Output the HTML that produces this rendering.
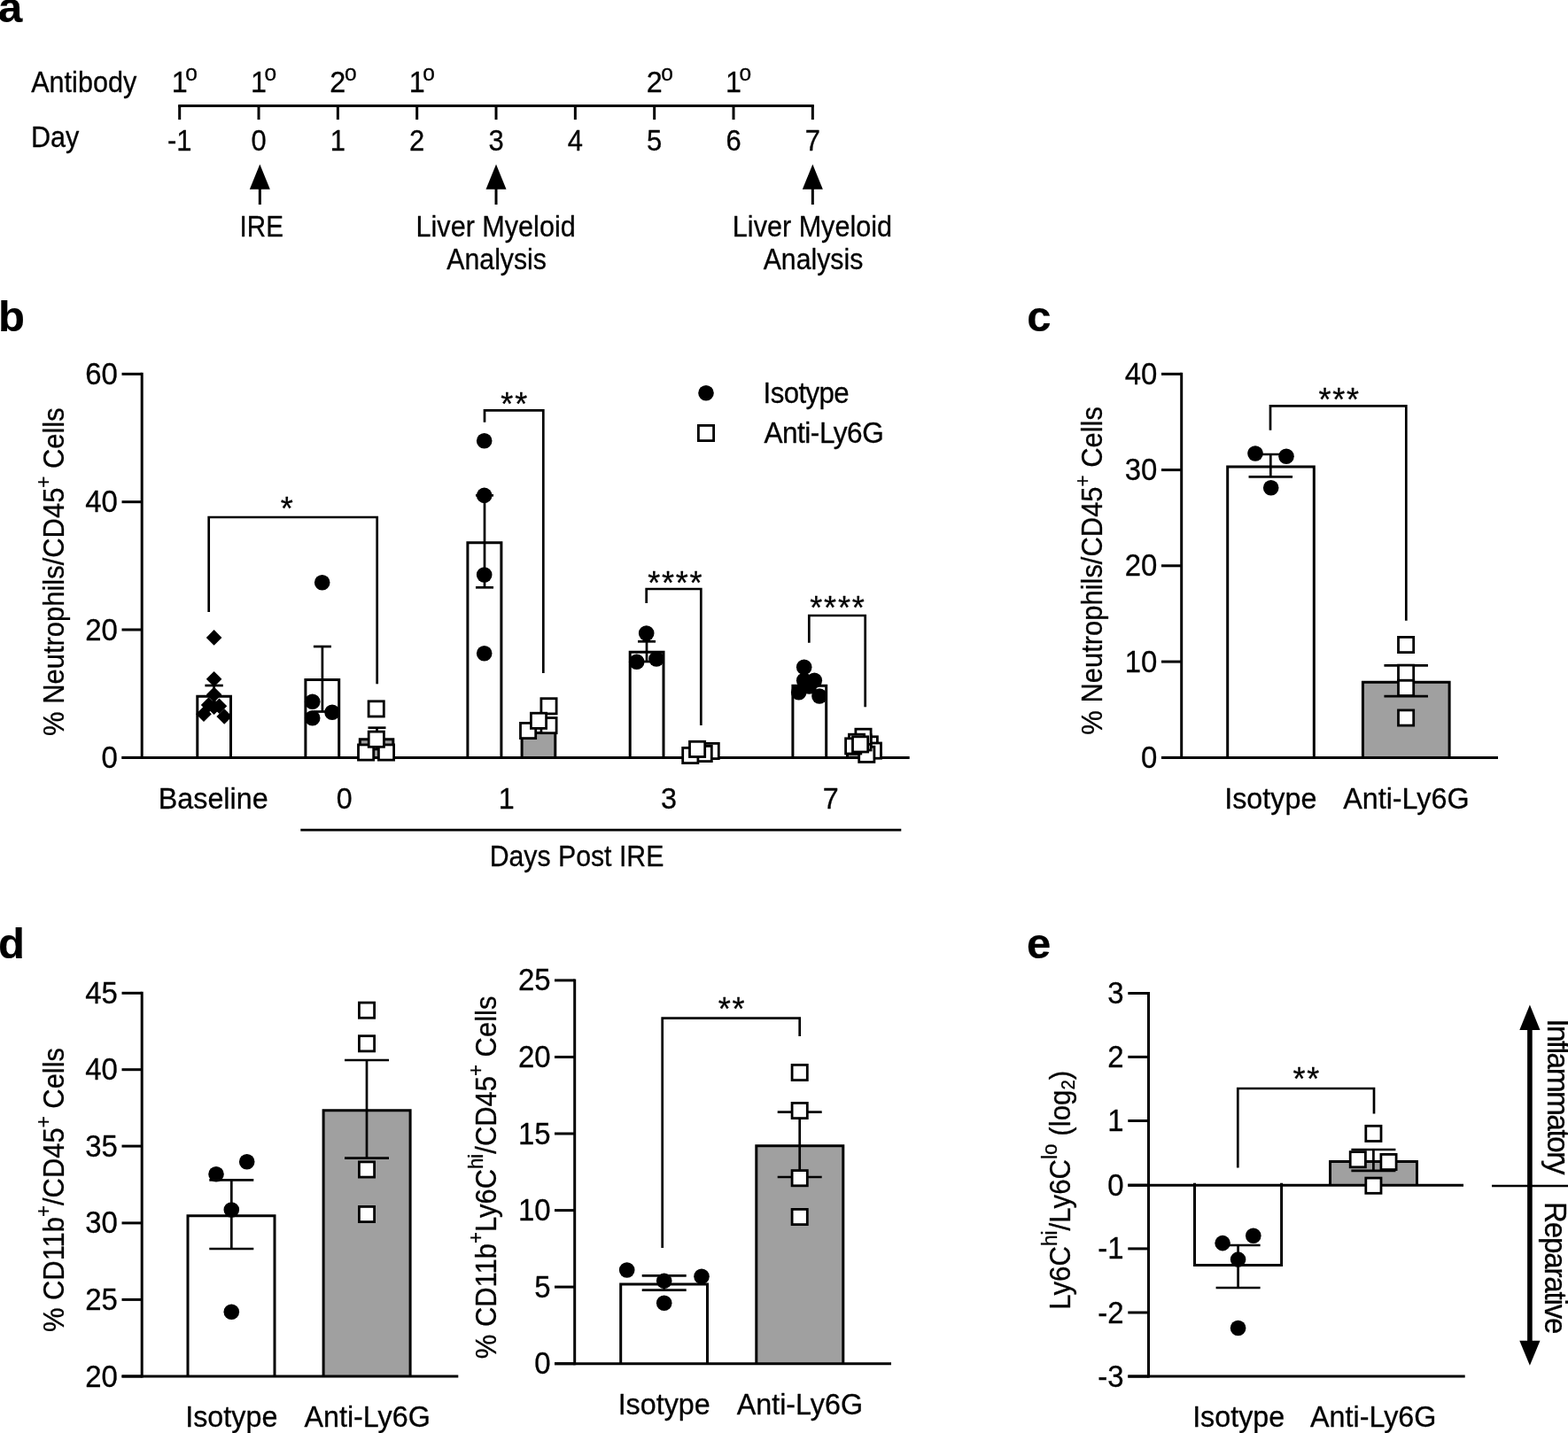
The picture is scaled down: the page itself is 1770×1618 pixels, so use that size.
<!DOCTYPE html>
<html lang="en"><head><meta charset="utf-8"><title>Figure</title>
<style>
html,body{margin:0;padding:0;background:#fff;}
body{width:1770px;height:1618px;overflow:hidden;}
svg{display:block;}
svg text{font-family:"Liberation Sans",Arial,Helvetica,sans-serif;fill:#000;stroke:#000;stroke-width:.3px;stroke-linejoin:round;}
svg text.b{stroke-width:.2px;}
</style></head>
<body>
<svg width="1770" height="1618" viewBox="0 0 1770 1618">
<rect width="1770" height="1618" fill="#fff"/>
<text class="b" transform="translate(-1.9 25)" font-size="49" text-anchor="start" font-weight="bold">a</text>
<text class="b" transform="translate(-1.9 374.2)" font-size="49" text-anchor="start" font-weight="bold">b</text>
<text class="b" transform="translate(1159.2 374)" font-size="49" text-anchor="start" font-weight="bold">c</text>
<text class="b" transform="translate(-1.9 1081.7)" font-size="49" text-anchor="start" font-weight="bold">d</text>
<text class="b" transform="translate(1158.9 1081.9)" font-size="49" text-anchor="start" font-weight="bold">e</text>
<line x1="201.2" y1="119.4" x2="918.84" y2="119.4" stroke="#000" stroke-width="3" stroke-linecap="butt"/>
<line x1="202.7" y1="119.4" x2="202.7" y2="135.1" stroke="#000" stroke-width="3" stroke-linecap="butt"/>
<line x1="292.03" y1="119.4" x2="292.03" y2="135.1" stroke="#000" stroke-width="3" stroke-linecap="butt"/>
<line x1="381.36" y1="119.4" x2="381.36" y2="135.1" stroke="#000" stroke-width="3" stroke-linecap="butt"/>
<line x1="470.69" y1="119.4" x2="470.69" y2="135.1" stroke="#000" stroke-width="3" stroke-linecap="butt"/>
<line x1="560.02" y1="119.4" x2="560.02" y2="135.1" stroke="#000" stroke-width="3" stroke-linecap="butt"/>
<line x1="649.35" y1="119.4" x2="649.35" y2="135.1" stroke="#000" stroke-width="3" stroke-linecap="butt"/>
<line x1="738.68" y1="119.4" x2="738.68" y2="135.1" stroke="#000" stroke-width="3" stroke-linecap="butt"/>
<line x1="828.01" y1="119.4" x2="828.01" y2="135.1" stroke="#000" stroke-width="3" stroke-linecap="butt"/>
<line x1="917.34" y1="119.4" x2="917.34" y2="135.1" stroke="#000" stroke-width="3" stroke-linecap="butt"/>
<text transform="translate(35.2 103.8) scale(0.9 1)" font-size="34" text-anchor="start" font-weight="normal">Antibody</text>
<text transform="translate(34.9 166.4) scale(0.9 1)" font-size="34" text-anchor="start" font-weight="normal">Day</text>
<text transform="translate(202.7 170) scale(0.93 1)" font-size="33.3" text-anchor="middle" font-weight="normal">-1</text>
<text transform="translate(292.03 170) scale(0.93 1)" font-size="33.3" text-anchor="middle" font-weight="normal">0</text>
<text transform="translate(381.36 170) scale(0.93 1)" font-size="33.3" text-anchor="middle" font-weight="normal">1</text>
<text transform="translate(470.69 170) scale(0.93 1)" font-size="33.3" text-anchor="middle" font-weight="normal">2</text>
<text transform="translate(560.02 170) scale(0.93 1)" font-size="33.3" text-anchor="middle" font-weight="normal">3</text>
<text transform="translate(649.35 170) scale(0.93 1)" font-size="33.3" text-anchor="middle" font-weight="normal">4</text>
<text transform="translate(738.68 170) scale(0.93 1)" font-size="33.3" text-anchor="middle" font-weight="normal">5</text>
<text transform="translate(828.01 170) scale(0.93 1)" font-size="33.3" text-anchor="middle" font-weight="normal">6</text>
<text transform="translate(917.34 170) scale(0.93 1)" font-size="33.3" text-anchor="middle" font-weight="normal">7</text>
<text transform="translate(193.7 103.8) scale(0.95 1)" font-size="34" text-anchor="start" font-weight="normal">1<tspan dx="-2.6" font-size="25.84" dy="-12.41">o</tspan></text>
<text transform="translate(283.03 103.8) scale(0.95 1)" font-size="34" text-anchor="start" font-weight="normal">1<tspan dx="-2.6" font-size="25.84" dy="-12.41">o</tspan></text>
<text transform="translate(372.36 103.8) scale(0.95 1)" font-size="34" text-anchor="start" font-weight="normal">2<tspan dx="-1.4" font-size="25.84" dy="-12.41">o</tspan></text>
<text transform="translate(461.69 103.8) scale(0.95 1)" font-size="34" text-anchor="start" font-weight="normal">1<tspan dx="-2.6" font-size="25.84" dy="-12.41">o</tspan></text>
<text transform="translate(729.68 103.8) scale(0.95 1)" font-size="34" text-anchor="start" font-weight="normal">2<tspan dx="-1.4" font-size="25.84" dy="-12.41">o</tspan></text>
<text transform="translate(819.01 103.8) scale(0.95 1)" font-size="34" text-anchor="start" font-weight="normal">1<tspan dx="-2.6" font-size="25.84" dy="-12.41">o</tspan></text>
<path d="M293.33 185.6L304.83 213.8H281.83Z" fill="#000"/>
<line x1="293.33" y1="212.8" x2="293.33" y2="231" stroke="#000" stroke-width="3" stroke-linecap="butt"/>
<path d="M560.02 185.6L571.52 213.8H548.52Z" fill="#000"/>
<line x1="560.02" y1="212.8" x2="560.02" y2="231" stroke="#000" stroke-width="3" stroke-linecap="butt"/>
<path d="M917.34 185.6L928.84 213.8H905.84Z" fill="#000"/>
<line x1="917.34" y1="212.8" x2="917.34" y2="231" stroke="#000" stroke-width="3" stroke-linecap="butt"/>
<text transform="translate(295.2 266.9) scale(0.87 1)" font-size="34" text-anchor="middle" font-weight="normal">IRE</text>
<text transform="translate(559.62 266.9) scale(0.9 1)" font-size="34" text-anchor="middle" font-weight="normal">Liver Myeloid</text>
<text transform="translate(560.62 304.2) scale(0.89 1)" font-size="34" text-anchor="middle" font-weight="normal">Analysis</text>
<text transform="translate(916.94 266.9) scale(0.9 1)" font-size="34" text-anchor="middle" font-weight="normal">Liver Myeloid</text>
<text transform="translate(917.94 304.2) scale(0.89 1)" font-size="34" text-anchor="middle" font-weight="normal">Analysis</text>
<line x1="160.2" y1="420.8" x2="160.2" y2="856.9" stroke="#000" stroke-width="3" stroke-linecap="butt"/>
<line x1="137.5" y1="422.3" x2="160.2" y2="422.3" stroke="#000" stroke-width="3" stroke-linecap="butt"/>
<text transform="translate(132.8 433.8) scale(0.94 1)" font-size="35" text-anchor="end" font-weight="normal">60</text>
<line x1="137.5" y1="566.7" x2="160.2" y2="566.7" stroke="#000" stroke-width="3" stroke-linecap="butt"/>
<text transform="translate(132.8 578.2) scale(0.94 1)" font-size="35" text-anchor="end" font-weight="normal">40</text>
<line x1="137.5" y1="711" x2="160.2" y2="711" stroke="#000" stroke-width="3" stroke-linecap="butt"/>
<text transform="translate(132.8 722.5) scale(0.94 1)" font-size="35" text-anchor="end" font-weight="normal">20</text>
<line x1="137.5" y1="855.4" x2="160.2" y2="855.4" stroke="#000" stroke-width="3" stroke-linecap="butt"/>
<text transform="translate(132.8 866.9) scale(0.94 1)" font-size="35" text-anchor="end" font-weight="normal">0</text>
<text transform="translate(72.1 645.6) rotate(-90) scale(0.91 1)" font-size="34" text-anchor="middle" font-weight="normal">% Neutrophils/CD45<tspan font-size="24.48" dy="-14.62">+</tspan><tspan dy="14.62"> Cells</tspan></text>
<path d="M222.8 855.4V786.2H260.5V855.4" fill="#fff" stroke="#000" stroke-width="3" stroke-linejoin="miter"/>
<line x1="241.6" y1="774" x2="241.6" y2="797" stroke="#000" stroke-width="2.7" stroke-linecap="butt"/>
<line x1="231.4" y1="774" x2="251.8" y2="774" stroke="#000" stroke-width="2.7" stroke-linecap="butt"/>
<line x1="231.4" y1="797" x2="251.8" y2="797" stroke="#000" stroke-width="2.7" stroke-linecap="butt"/>
<path d="M344.9 855.4V767.5H382.7V855.4" fill="#fff" stroke="#000" stroke-width="3" stroke-linejoin="miter"/>
<line x1="363.9" y1="730" x2="363.9" y2="803.5" stroke="#000" stroke-width="2.7" stroke-linecap="butt"/>
<line x1="353.9" y1="730" x2="373.9" y2="730" stroke="#000" stroke-width="2.7" stroke-linecap="butt"/>
<line x1="353.9" y1="803.5" x2="373.9" y2="803.5" stroke="#000" stroke-width="2.7" stroke-linecap="butt"/>
<path d="M406.3 855.4V834.7H443.8V855.4" fill="#a0a0a0" stroke="#000" stroke-width="3" stroke-linejoin="miter"/>
<line x1="425.5" y1="821.7" x2="425.5" y2="846" stroke="#000" stroke-width="2.7" stroke-linecap="butt"/>
<line x1="415.5" y1="821.7" x2="435.5" y2="821.7" stroke="#000" stroke-width="2.7" stroke-linecap="butt"/>
<line x1="415.5" y1="846" x2="435.5" y2="846" stroke="#000" stroke-width="2.7" stroke-linecap="butt"/>
<path d="M527.9 855.4V612.8H565.9V855.4" fill="#fff" stroke="#000" stroke-width="3" stroke-linejoin="miter"/>
<line x1="547" y1="559.3" x2="547" y2="663.3" stroke="#000" stroke-width="2.7" stroke-linecap="butt"/>
<line x1="537" y1="559.3" x2="557" y2="559.3" stroke="#000" stroke-width="2.7" stroke-linecap="butt"/>
<line x1="537" y1="663.3" x2="557" y2="663.3" stroke="#000" stroke-width="2.7" stroke-linecap="butt"/>
<path d="M589.1 855.4V827.5H626.8V855.4" fill="#a0a0a0" stroke="#000" stroke-width="3" stroke-linejoin="miter"/>
<path d="M711.2 855.4V736.2H749V855.4" fill="#fff" stroke="#000" stroke-width="3" stroke-linejoin="miter"/>
<line x1="730" y1="724.3" x2="730" y2="747" stroke="#000" stroke-width="2.7" stroke-linecap="butt"/>
<line x1="720" y1="724.3" x2="740" y2="724.3" stroke="#000" stroke-width="2.7" stroke-linecap="butt"/>
<line x1="720" y1="747" x2="740" y2="747" stroke="#000" stroke-width="2.7" stroke-linecap="butt"/>
<path d="M894.9 855.4V774.2H932.7V855.4" fill="#fff" stroke="#000" stroke-width="3" stroke-linejoin="miter"/>
<path d="M956.5 855.4V851.1H994.5V855.4" fill="#a0a0a0" stroke="#000" stroke-width="3" stroke-linejoin="miter"/>
<line x1="137.5" y1="855.4" x2="1026.7" y2="855.4" stroke="#000" stroke-width="3" stroke-linecap="butt"/>
<path d="M241.6 711.1L250.4 719.9L241.6 728.7L232.8 719.9Z" fill="#000"/>
<path d="M241.6 757.9L250.4 766.7L241.6 775.5L232.8 766.7Z" fill="#000"/>
<path d="M241.6 775.4L250.4 784.2L241.6 793L232.8 784.2Z" fill="#000"/>
<path d="M235.6 787.2L244.4 796L235.6 804.8L226.8 796Z" fill="#000"/>
<path d="M247.5 788.4L256.3 797.2L247.5 806L238.7 797.2Z" fill="#000"/>
<path d="M241.6 789.5L250.4 798.3L241.6 807.1L232.8 798.3Z" fill="#000"/>
<path d="M230 797.4L238.8 806.2L230 815L221.2 806.2Z" fill="#000"/>
<path d="M253.2 800.2L262 809L253.2 817.8L244.4 809Z" fill="#000"/>
<circle cx="363.7" cy="657.7" r="8.8" fill="#000"/>
<circle cx="352.7" cy="792.3" r="8.8" fill="#000"/>
<circle cx="375" cy="804.3" r="8.8" fill="#000"/>
<circle cx="352.7" cy="810.7" r="8.8" fill="#000"/>
<rect x="404.5" y="840.9" width="17.2" height="17.2" fill="#fff" stroke="#000" stroke-width="2.8"/>
<rect x="427.4" y="840.9" width="17.2" height="17.2" fill="#fff" stroke="#000" stroke-width="2.8"/>
<rect x="416.2" y="826.1" width="17.2" height="17.2" fill="#fff" stroke="#000" stroke-width="2.8"/>
<rect x="416.1" y="791.8" width="17.2" height="17.2" fill="#fff" stroke="#000" stroke-width="2.8"/>
<circle cx="546.7" cy="497.7" r="8.8" fill="#000"/>
<circle cx="546.7" cy="559.4" r="8.8" fill="#000"/>
<circle cx="546.7" cy="649" r="8.8" fill="#000"/>
<circle cx="546.7" cy="737.7" r="8.8" fill="#000"/>
<rect x="610.9" y="788.7" width="17.2" height="17.2" fill="#fff" stroke="#000" stroke-width="2.8"/>
<rect x="610.9" y="810.5" width="17.2" height="17.2" fill="#fff" stroke="#000" stroke-width="2.8"/>
<rect x="587.5" y="816.4" width="17.2" height="17.2" fill="#fff" stroke="#000" stroke-width="2.8"/>
<rect x="599.4" y="805.2" width="17.2" height="17.2" fill="#fff" stroke="#000" stroke-width="2.8"/>
<circle cx="729.7" cy="715" r="8.8" fill="#000"/>
<circle cx="718.7" cy="747.3" r="8.8" fill="#000"/>
<circle cx="741" cy="744" r="8.8" fill="#000"/>
<rect x="794.1" y="839.4" width="17.2" height="17.2" fill="#fff" stroke="#000" stroke-width="2.8"/>
<rect x="786.1" y="842.4" width="17.2" height="17.2" fill="#fff" stroke="#000" stroke-width="2.8"/>
<rect x="770.7" y="844.4" width="17.2" height="17.2" fill="#fff" stroke="#000" stroke-width="2.8"/>
<rect x="778.5" y="837.3" width="17.2" height="17.2" fill="#fff" stroke="#000" stroke-width="2.8"/>
<circle cx="907.7" cy="753.3" r="8.8" fill="#000"/>
<circle cx="907.7" cy="768.3" r="8.8" fill="#000"/>
<circle cx="919.3" cy="768.3" r="8.8" fill="#000"/>
<circle cx="913.3" cy="775" r="8.8" fill="#000"/>
<circle cx="901.7" cy="781.7" r="8.8" fill="#000"/>
<circle cx="925" cy="786" r="8.8" fill="#000"/>
<rect x="973.2" y="831.8" width="17.2" height="17.2" fill="#fff" stroke="#000" stroke-width="2.8"/>
<rect x="977.3" y="839" width="17.2" height="17.2" fill="#fff" stroke="#000" stroke-width="2.8"/>
<rect x="969.7" y="843.2" width="17.2" height="17.2" fill="#fff" stroke="#000" stroke-width="2.8"/>
<rect x="965.9" y="829.8" width="17.2" height="17.2" fill="#fff" stroke="#000" stroke-width="2.8"/>
<rect x="965.9" y="823.2" width="17.2" height="17.2" fill="#fff" stroke="#000" stroke-width="2.8"/>
<rect x="958.4" y="829.2" width="17.2" height="17.2" fill="#fff" stroke="#000" stroke-width="2.8"/>
<rect x="954.6" y="833.8" width="17.2" height="17.2" fill="#fff" stroke="#000" stroke-width="2.8"/>
<rect x="962.5" y="831.8" width="17.2" height="17.2" fill="#fff" stroke="#000" stroke-width="2.8"/>
<path d="M235.7 691V584H425.7V772.3" fill="none" stroke="#000" stroke-width="2.7" stroke-linejoin="miter"/>
<text transform="translate(324.6 586.95)" font-size="36" text-anchor="middle" font-weight="normal" letter-spacing="1.8">*</text>
<path d="M547 476.7V463.3H613.3V760.1" fill="none" stroke="#000" stroke-width="2.7" stroke-linejoin="miter"/>
<text transform="translate(581.15 469.4)" font-size="36" text-anchor="middle" font-weight="normal" letter-spacing="1.8">**</text>
<path d="M729.7 681V665H791.3V819" fill="none" stroke="#000" stroke-width="2.7" stroke-linejoin="miter"/>
<text transform="translate(762.8 670.75)" font-size="36" text-anchor="middle" font-weight="normal" letter-spacing="1.8">****</text>
<path d="M913.3 725.7V695H976.7V798.3" fill="none" stroke="#000" stroke-width="2.7" stroke-linejoin="miter"/>
<text transform="translate(945.9 699.4)" font-size="36" text-anchor="middle" font-weight="normal" letter-spacing="1.8">****</text>
<text transform="translate(240.7 912.7) scale(0.95 1)" font-size="34" text-anchor="middle" font-weight="normal">Baseline</text>
<text transform="translate(388.7 912.7) scale(0.95 1)" font-size="34" text-anchor="middle" font-weight="normal">0</text>
<text transform="translate(571.7 912.7) scale(0.95 1)" font-size="34" text-anchor="middle" font-weight="normal">1</text>
<text transform="translate(755 912.7) scale(0.95 1)" font-size="34" text-anchor="middle" font-weight="normal">3</text>
<text transform="translate(937.7 912.7) scale(0.95 1)" font-size="34" text-anchor="middle" font-weight="normal">7</text>
<line x1="339.3" y1="937.1" x2="1017.3" y2="937.1" stroke="#000" stroke-width="2.6" stroke-linecap="butt"/>
<text transform="translate(651 978.4) scale(0.89 1)" font-size="34" text-anchor="middle" font-weight="normal">Days Post IRE</text>
<circle cx="797" cy="443.7" r="8.8" fill="#000"/>
<rect x="788.4" y="480.4" width="17.2" height="17.2" fill="#fff" stroke="#000" stroke-width="2.8"/>
<text transform="translate(861.6 455) scale(0.92 1)" font-size="34" text-anchor="start" font-weight="normal" letter-spacing="-0.68">Isotype</text>
<text transform="translate(862.4 500) scale(0.93 1)" font-size="34" text-anchor="start" font-weight="normal" letter-spacing="-0.54">Anti-Ly6G</text>
<line x1="1333.7" y1="420.8" x2="1333.7" y2="856.9" stroke="#000" stroke-width="3" stroke-linecap="butt"/>
<line x1="1311" y1="422.3" x2="1333.7" y2="422.3" stroke="#000" stroke-width="3" stroke-linecap="butt"/>
<text transform="translate(1306.3 433.8) scale(0.94 1)" font-size="35" text-anchor="end" font-weight="normal">40</text>
<line x1="1311" y1="530.6" x2="1333.7" y2="530.6" stroke="#000" stroke-width="3" stroke-linecap="butt"/>
<text transform="translate(1306.3 542.1) scale(0.94 1)" font-size="35" text-anchor="end" font-weight="normal">30</text>
<line x1="1311" y1="638.8" x2="1333.7" y2="638.8" stroke="#000" stroke-width="3" stroke-linecap="butt"/>
<text transform="translate(1306.3 650.3) scale(0.94 1)" font-size="35" text-anchor="end" font-weight="normal">20</text>
<line x1="1311" y1="747.1" x2="1333.7" y2="747.1" stroke="#000" stroke-width="3" stroke-linecap="butt"/>
<text transform="translate(1306.3 758.6) scale(0.94 1)" font-size="35" text-anchor="end" font-weight="normal">10</text>
<line x1="1311" y1="855.4" x2="1333.7" y2="855.4" stroke="#000" stroke-width="3" stroke-linecap="butt"/>
<text transform="translate(1306.3 866.9) scale(0.94 1)" font-size="35" text-anchor="end" font-weight="normal">0</text>
<text transform="translate(1244.3 644.4) rotate(-90) scale(0.91 1)" font-size="34" text-anchor="middle" font-weight="normal">% Neutrophils/CD45<tspan font-size="24.48" dy="-14.62">+</tspan><tspan dy="14.62"> Cells</tspan></text>
<path d="M1385.7 855.4V527.1H1483.3V855.4" fill="#fff" stroke="#000" stroke-width="3" stroke-linejoin="miter"/>
<line x1="1434.3" y1="513" x2="1434.3" y2="538.3" stroke="#000" stroke-width="2.7" stroke-linecap="butt"/>
<line x1="1409.55" y1="513" x2="1459.05" y2="513" stroke="#000" stroke-width="2.7" stroke-linecap="butt"/>
<line x1="1409.55" y1="538.3" x2="1459.05" y2="538.3" stroke="#000" stroke-width="2.7" stroke-linecap="butt"/>
<path d="M1538.4 855.4V770.3H1636.1V855.4" fill="#a0a0a0" stroke="#000" stroke-width="3" stroke-linejoin="miter"/>
<line x1="1587.2" y1="751.4" x2="1587.2" y2="786.1" stroke="#000" stroke-width="2.7" stroke-linecap="butt"/>
<line x1="1562.45" y1="751.4" x2="1611.95" y2="751.4" stroke="#000" stroke-width="2.7" stroke-linecap="butt"/>
<line x1="1562.45" y1="786.1" x2="1611.95" y2="786.1" stroke="#000" stroke-width="2.7" stroke-linecap="butt"/>
<line x1="1311" y1="855.4" x2="1691" y2="855.4" stroke="#000" stroke-width="3" stroke-linecap="butt"/>
<circle cx="1417" cy="512" r="8.8" fill="#000"/>
<circle cx="1452" cy="515.3" r="8.8" fill="#000"/>
<circle cx="1434.7" cy="550.7" r="8.8" fill="#000"/>
<rect x="1578.5" y="719.4" width="17.2" height="17.2" fill="#fff" stroke="#000" stroke-width="2.8"/>
<rect x="1578.5" y="751.1" width="17.2" height="17.2" fill="#fff" stroke="#000" stroke-width="2.8"/>
<rect x="1578.5" y="768.3" width="17.2" height="17.2" fill="#fff" stroke="#000" stroke-width="2.8"/>
<rect x="1578.5" y="801.9" width="17.2" height="17.2" fill="#fff" stroke="#000" stroke-width="2.8"/>
<path d="M1434 485.7V458.3H1587.3V700.7" fill="none" stroke="#000" stroke-width="2.7" stroke-linejoin="miter"/>
<text transform="translate(1512.1 464.45)" font-size="36" text-anchor="middle" font-weight="normal" letter-spacing="1.8">***</text>
<text transform="translate(1434.3 912.7) scale(0.95 1)" font-size="34" text-anchor="middle" font-weight="normal">Isotype</text>
<text transform="translate(1587.4 912.7) scale(0.95 1)" font-size="34" text-anchor="middle" font-weight="normal">Anti-Ly6G</text>
<line x1="160.2" y1="1119.8" x2="160.2" y2="1555.5" stroke="#000" stroke-width="3" stroke-linecap="butt"/>
<line x1="137.5" y1="1121.3" x2="160.2" y2="1121.3" stroke="#000" stroke-width="3" stroke-linecap="butt"/>
<text transform="translate(132.8 1132.8) scale(0.94 1)" font-size="35" text-anchor="end" font-weight="normal">45</text>
<line x1="137.5" y1="1207.7" x2="160.2" y2="1207.7" stroke="#000" stroke-width="3" stroke-linecap="butt"/>
<text transform="translate(132.8 1219.2) scale(0.94 1)" font-size="35" text-anchor="end" font-weight="normal">40</text>
<line x1="137.5" y1="1294.1" x2="160.2" y2="1294.1" stroke="#000" stroke-width="3" stroke-linecap="butt"/>
<text transform="translate(132.8 1305.6) scale(0.94 1)" font-size="35" text-anchor="end" font-weight="normal">35</text>
<line x1="137.5" y1="1380.9" x2="160.2" y2="1380.9" stroke="#000" stroke-width="3" stroke-linecap="butt"/>
<text transform="translate(132.8 1392.4) scale(0.94 1)" font-size="35" text-anchor="end" font-weight="normal">30</text>
<line x1="137.5" y1="1467.4" x2="160.2" y2="1467.4" stroke="#000" stroke-width="3" stroke-linecap="butt"/>
<text transform="translate(132.8 1478.9) scale(0.94 1)" font-size="35" text-anchor="end" font-weight="normal">25</text>
<line x1="137.5" y1="1554" x2="160.2" y2="1554" stroke="#000" stroke-width="3" stroke-linecap="butt"/>
<text transform="translate(132.8 1565.5) scale(0.94 1)" font-size="35" text-anchor="end" font-weight="normal">20</text>
<text transform="translate(72.1 1343.5) rotate(-90) scale(0.91 1)" font-size="34" text-anchor="middle" font-weight="normal">% CD11b<tspan font-size="24.48" dy="-14.62">+</tspan><tspan dy="14.62">/CD45</tspan><tspan font-size="24.48" dy="-14.62">+</tspan><tspan dy="14.62"> Cells</tspan></text>
<path d="M212 1554V1372.7H310V1554" fill="#fff" stroke="#000" stroke-width="3" stroke-linejoin="miter"/>
<line x1="261.3" y1="1332.3" x2="261.3" y2="1410" stroke="#000" stroke-width="2.7" stroke-linecap="butt"/>
<line x1="236.3" y1="1332.3" x2="286.3" y2="1332.3" stroke="#000" stroke-width="2.7" stroke-linecap="butt"/>
<line x1="236.3" y1="1410" x2="286.3" y2="1410" stroke="#000" stroke-width="2.7" stroke-linecap="butt"/>
<path d="M365.1 1554V1253.8H463.1V1554" fill="#a0a0a0" stroke="#000" stroke-width="3" stroke-linejoin="miter"/>
<line x1="414" y1="1197" x2="414" y2="1307.7" stroke="#000" stroke-width="2.7" stroke-linecap="butt"/>
<line x1="389" y1="1197" x2="439" y2="1197" stroke="#000" stroke-width="2.7" stroke-linecap="butt"/>
<line x1="389" y1="1307.7" x2="439" y2="1307.7" stroke="#000" stroke-width="2.7" stroke-linecap="butt"/>
<line x1="137.5" y1="1554" x2="517.3" y2="1554" stroke="#000" stroke-width="3" stroke-linecap="butt"/>
<circle cx="244" cy="1325.7" r="8.8" fill="#000"/>
<circle cx="278.7" cy="1311.7" r="8.8" fill="#000"/>
<circle cx="261.3" cy="1366" r="8.8" fill="#000"/>
<circle cx="261.3" cy="1481.3" r="8.8" fill="#000"/>
<rect x="405.4" y="1132.1" width="17.2" height="17.2" fill="#fff" stroke="#000" stroke-width="2.8"/>
<rect x="405.4" y="1169.7" width="17.2" height="17.2" fill="#fff" stroke="#000" stroke-width="2.8"/>
<rect x="405.4" y="1311.9" width="17.2" height="17.2" fill="#fff" stroke="#000" stroke-width="2.8"/>
<rect x="405.4" y="1362.4" width="17.2" height="17.2" fill="#fff" stroke="#000" stroke-width="2.8"/>
<text transform="translate(261.3 1611.4) scale(0.95 1)" font-size="34" text-anchor="middle" font-weight="normal">Isotype</text>
<text transform="translate(414.6 1611.4) scale(0.95 1)" font-size="34" text-anchor="middle" font-weight="normal">Anti-Ly6G</text>
<line x1="648.7" y1="1105.4" x2="648.7" y2="1541.2" stroke="#000" stroke-width="3" stroke-linecap="butt"/>
<line x1="626" y1="1106.9" x2="648.7" y2="1106.9" stroke="#000" stroke-width="3" stroke-linecap="butt"/>
<text transform="translate(621.6 1118.4) scale(0.94 1)" font-size="35" text-anchor="end" font-weight="normal">25</text>
<line x1="626" y1="1193.5" x2="648.7" y2="1193.5" stroke="#000" stroke-width="3" stroke-linecap="butt"/>
<text transform="translate(621.6 1205) scale(0.94 1)" font-size="35" text-anchor="end" font-weight="normal">20</text>
<line x1="626" y1="1280" x2="648.7" y2="1280" stroke="#000" stroke-width="3" stroke-linecap="butt"/>
<text transform="translate(621.6 1291.5) scale(0.94 1)" font-size="35" text-anchor="end" font-weight="normal">15</text>
<line x1="626" y1="1366.6" x2="648.7" y2="1366.6" stroke="#000" stroke-width="3" stroke-linecap="butt"/>
<text transform="translate(621.6 1378.1) scale(0.94 1)" font-size="35" text-anchor="end" font-weight="normal">10</text>
<line x1="626" y1="1453.1" x2="648.7" y2="1453.1" stroke="#000" stroke-width="3" stroke-linecap="butt"/>
<text transform="translate(621.6 1464.6) scale(0.94 1)" font-size="35" text-anchor="end" font-weight="normal">5</text>
<line x1="626" y1="1539.7" x2="648.7" y2="1539.7" stroke="#000" stroke-width="3" stroke-linecap="butt"/>
<text transform="translate(621.6 1551.2) scale(0.94 1)" font-size="35" text-anchor="end" font-weight="normal">0</text>
<text transform="translate(560 1329.4) rotate(-90) scale(0.91 1)" font-size="34" text-anchor="middle" font-weight="normal">% CD11b<tspan font-size="24.48" dy="-14.62">+</tspan><tspan dy="14.62">Ly6C</tspan><tspan font-size="24.48" dy="-14.62">hi</tspan><tspan dy="14.62">/CD45</tspan><tspan font-size="24.48" dy="-14.62">+</tspan><tspan dy="14.62"> Cells</tspan></text>
<path d="M700.7 1539.7V1450.1H798.5V1539.7" fill="#fff" stroke="#000" stroke-width="3" stroke-linejoin="miter"/>
<line x1="749.7" y1="1440.3" x2="749.7" y2="1456.7" stroke="#000" stroke-width="2.7" stroke-linecap="butt"/>
<line x1="724.7" y1="1440.3" x2="774.7" y2="1440.3" stroke="#000" stroke-width="2.7" stroke-linecap="butt"/>
<line x1="724.7" y1="1456.7" x2="774.7" y2="1456.7" stroke="#000" stroke-width="2.7" stroke-linecap="butt"/>
<path d="M853.8 1539.7V1293.7H951.8V1539.7" fill="#a0a0a0" stroke="#000" stroke-width="3" stroke-linejoin="miter"/>
<line x1="902.7" y1="1255.7" x2="902.7" y2="1329" stroke="#000" stroke-width="2.7" stroke-linecap="butt"/>
<line x1="877.7" y1="1255.7" x2="927.7" y2="1255.7" stroke="#000" stroke-width="2.7" stroke-linecap="butt"/>
<line x1="877.7" y1="1329" x2="927.7" y2="1329" stroke="#000" stroke-width="2.7" stroke-linecap="butt"/>
<line x1="626" y1="1539.7" x2="1006" y2="1539.7" stroke="#000" stroke-width="3" stroke-linecap="butt"/>
<circle cx="707.7" cy="1434" r="8.8" fill="#000"/>
<circle cx="792" cy="1441.3" r="8.8" fill="#000"/>
<circle cx="749.7" cy="1446.3" r="8.8" fill="#000"/>
<circle cx="749.7" cy="1471.3" r="8.8" fill="#000"/>
<rect x="894.1" y="1202.4" width="17.2" height="17.2" fill="#fff" stroke="#000" stroke-width="2.8"/>
<rect x="894.1" y="1245.4" width="17.2" height="17.2" fill="#fff" stroke="#000" stroke-width="2.8"/>
<rect x="894.1" y="1321.6" width="17.2" height="17.2" fill="#fff" stroke="#000" stroke-width="2.8"/>
<rect x="894.1" y="1365.4" width="17.2" height="17.2" fill="#fff" stroke="#000" stroke-width="2.8"/>
<path d="M747.7 1409V1149.6H902.7V1170" fill="none" stroke="#000" stroke-width="2.7" stroke-linejoin="miter"/>
<text transform="translate(826.6 1152.45)" font-size="36" text-anchor="middle" font-weight="normal" letter-spacing="1.8">**</text>
<text transform="translate(749.7 1597) scale(0.95 1)" font-size="34" text-anchor="middle" font-weight="normal">Isotype</text>
<text transform="translate(902.9 1597) scale(0.95 1)" font-size="34" text-anchor="middle" font-weight="normal">Anti-Ly6G</text>
<line x1="1296.5" y1="1120" x2="1296.5" y2="1555.6" stroke="#000" stroke-width="3" stroke-linecap="butt"/>
<line x1="1273.3" y1="1121.5" x2="1296.5" y2="1121.5" stroke="#000" stroke-width="3" stroke-linecap="butt"/>
<text transform="translate(1268.6 1133) scale(0.94 1)" font-size="35" text-anchor="end" font-weight="normal">3</text>
<line x1="1273.3" y1="1193.4" x2="1296.5" y2="1193.4" stroke="#000" stroke-width="3" stroke-linecap="butt"/>
<text transform="translate(1268.6 1204.9) scale(0.94 1)" font-size="35" text-anchor="end" font-weight="normal">2</text>
<line x1="1273.3" y1="1265.5" x2="1296.5" y2="1265.5" stroke="#000" stroke-width="3" stroke-linecap="butt"/>
<text transform="translate(1268.6 1277) scale(0.94 1)" font-size="35" text-anchor="end" font-weight="normal">1</text>
<line x1="1273.3" y1="1338.2" x2="1296.5" y2="1338.2" stroke="#000" stroke-width="3" stroke-linecap="butt"/>
<text transform="translate(1268.6 1349.7) scale(0.94 1)" font-size="35" text-anchor="end" font-weight="normal">0</text>
<line x1="1273.3" y1="1409.9" x2="1296.5" y2="1409.9" stroke="#000" stroke-width="3" stroke-linecap="butt"/>
<text transform="translate(1268.6 1421.4) scale(0.94 1)" font-size="35" text-anchor="end" font-weight="normal">-1</text>
<line x1="1273.3" y1="1482" x2="1296.5" y2="1482" stroke="#000" stroke-width="3" stroke-linecap="butt"/>
<text transform="translate(1268.6 1493.5) scale(0.94 1)" font-size="35" text-anchor="end" font-weight="normal">-2</text>
<line x1="1273.3" y1="1554.1" x2="1296.5" y2="1554.1" stroke="#000" stroke-width="3" stroke-linecap="butt"/>
<text transform="translate(1268.6 1565.6) scale(0.94 1)" font-size="35" text-anchor="end" font-weight="normal">-3</text>
<text transform="translate(1207.6 1343.8) rotate(-90) scale(0.92 1)" font-size="34" text-anchor="middle" font-weight="normal">Ly6C<tspan font-size="24.48" dy="-14.62">hi</tspan><tspan dy="14.62">/Ly6C</tspan><tspan font-size="24.48" dy="-14.62">lo</tspan><tspan dy="14.62"> (log</tspan><tspan font-size="22.1" dy="5.1">2</tspan><tspan dy="-5.1">)</tspan></text>
<path d="M1348.5 1335.7V1428.5H1446.6V1335.7" fill="#fff" stroke="#000" stroke-width="3.0"/>
<line x1="1397.6" y1="1406" x2="1397.6" y2="1454" stroke="#000" stroke-width="2.7" stroke-linecap="butt"/>
<line x1="1372.6" y1="1406" x2="1422.6" y2="1406" stroke="#000" stroke-width="2.7" stroke-linecap="butt"/>
<line x1="1372.6" y1="1454" x2="1422.6" y2="1454" stroke="#000" stroke-width="2.7" stroke-linecap="butt"/>
<path d="M1501.5 1338.2V1311.5H1599.5V1338.2" fill="#a0a0a0" stroke="#000" stroke-width="3" stroke-linejoin="miter"/>
<line x1="1550.4" y1="1298" x2="1550.4" y2="1321.8" stroke="#000" stroke-width="2.7" stroke-linecap="butt"/>
<line x1="1525.4" y1="1298" x2="1575.4" y2="1298" stroke="#000" stroke-width="2.7" stroke-linecap="butt"/>
<line x1="1525.4" y1="1321.8" x2="1575.4" y2="1321.8" stroke="#000" stroke-width="2.7" stroke-linecap="butt"/>
<line x1="1273.3" y1="1338.2" x2="1652" y2="1338.2" stroke="#000" stroke-width="3" stroke-linecap="butt"/>
<line x1="1273.3" y1="1554.1" x2="1653.7" y2="1554.1" stroke="#000" stroke-width="3" stroke-linecap="butt"/>
<circle cx="1380.1" cy="1403.6" r="8.8" fill="#000"/>
<circle cx="1414.8" cy="1395.2" r="8.8" fill="#000"/>
<circle cx="1397.6" cy="1422.1" r="8.8" fill="#000"/>
<circle cx="1397.6" cy="1499.5" r="8.8" fill="#000"/>
<rect x="1541.8" y="1271.3" width="17.2" height="17.2" fill="#fff" stroke="#000" stroke-width="2.8"/>
<rect x="1524.2" y="1300.6" width="17.2" height="17.2" fill="#fff" stroke="#000" stroke-width="2.8"/>
<rect x="1558.9" y="1303.4" width="17.2" height="17.2" fill="#fff" stroke="#000" stroke-width="2.8"/>
<rect x="1541.8" y="1330.1" width="17.2" height="17.2" fill="#fff" stroke="#000" stroke-width="2.8"/>
<path d="M1397.3 1318.6V1229H1551V1257.4" fill="none" stroke="#000" stroke-width="2.7" stroke-linejoin="miter"/>
<text transform="translate(1475.2 1231.15)" font-size="36" text-anchor="middle" font-weight="normal" letter-spacing="1.8">**</text>
<text transform="translate(1398.2 1611.4) scale(0.95 1)" font-size="34" text-anchor="middle" font-weight="normal">Isotype</text>
<text transform="translate(1550.2 1611.4) scale(0.95 1)" font-size="34" text-anchor="middle" font-weight="normal">Anti-Ly6G</text>
<line x1="1726.9" y1="1160" x2="1726.9" y2="1516" stroke="#000" stroke-width="5.6" stroke-linecap="butt"/>
<path d="M1726.9 1134.4L1738.5 1162.9H1715.3000000000002Z" fill="#000"/>
<path d="M1726.9 1541.8L1738.5 1513.8H1715.3000000000002Z" fill="#000"/>
<line x1="1684" y1="1339" x2="1770" y2="1339" stroke="#000" stroke-width="2.7" stroke-linecap="butt"/>
<text transform="translate(1746.8 1238.4) rotate(90) scale(0.96 1) translate(-0.84 0)" font-size="35" text-anchor="middle" font-weight="normal" letter-spacing="-1.69">Inflammatory</text>
<text transform="translate(1744.2 1431.8) rotate(90) scale(0.96 1) translate(-0.62 0)" font-size="34.5" text-anchor="middle" font-weight="normal" letter-spacing="-1.23">Reparative</text>
</svg>
</body></html>
